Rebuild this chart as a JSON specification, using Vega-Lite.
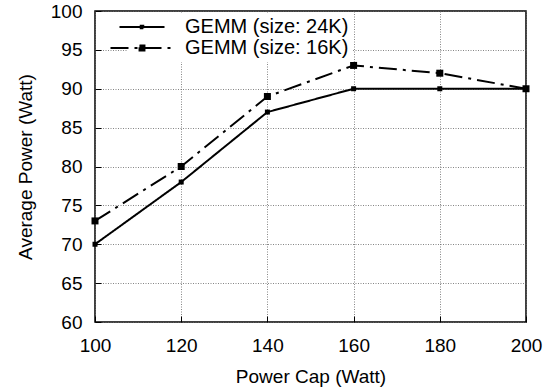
{
  "$schema": "https://vega.github.io/schema/vega-lite/v6.json",
  "width": 431,
  "height": 311,
  "autosize": "none",
  "padding": {"left": 95, "top": 11, "right": 26, "bottom": 67},
  "config": {
    "font": "Liberation Sans",
    "view": {"stroke": "black", "strokeWidth": 1.5},
    "axis": {
      "labelFont": "Liberation Sans",
      "labelFontSize": 19,
      "labelColor": "black",
      "labelFlush": false,
      "titleFont": "Liberation Sans",
      "titleFontSize": 19,
      "titleFontWeight": "normal",
      "titleColor": "black",
      "domain": false,
      "tickColor": "black",
      "tickSize": -6,
      "tickWidth": 1,
      "grid": true,
      "gridColor": "#666666",
      "gridDash": [1, 1.5],
      "gridWidth": 0.8
    },
    "legend": {
      "labelFont": "Liberation Sans",
      "labelFontSize": 20,
      "labelColor": "black",
      "labelLimit": 300
    }
  },
  "data": {
    "values": [
      {"cap": 100, "power": 70, "series": "GEMM (size: 24K)"},
      {"cap": 120, "power": 78, "series": "GEMM (size: 24K)"},
      {"cap": 140, "power": 87, "series": "GEMM (size: 24K)"},
      {"cap": 160, "power": 90, "series": "GEMM (size: 24K)"},
      {"cap": 180, "power": 90, "series": "GEMM (size: 24K)"},
      {"cap": 200, "power": 90, "series": "GEMM (size: 24K)"},
      {"cap": 100, "power": 73, "series": "GEMM (size: 16K)"},
      {"cap": 120, "power": 80, "series": "GEMM (size: 16K)"},
      {"cap": 140, "power": 89, "series": "GEMM (size: 16K)"},
      {"cap": 160, "power": 93, "series": "GEMM (size: 16K)"},
      {"cap": 180, "power": 92, "series": "GEMM (size: 16K)"},
      {"cap": 200, "power": 90, "series": "GEMM (size: 16K)"}
    ]
  },
  "encoding": {
    "x": {
      "field": "cap",
      "type": "quantitative",
      "title": "Power Cap (Watt)",
      "scale": {"domain": [100, 200], "nice": false},
      "axis": {"values": [100, 120, 140, 160, 180, 200], "labelPadding": 20, "titlePadding": 12}
    },
    "y": {
      "field": "power",
      "type": "quantitative",
      "title": "Average Power (Watt)",
      "scale": {"domain": [60, 100], "nice": false, "zero": false},
      "axis": {"values": [60, 65, 70, 75, 80, 85, 90, 95, 100], "labelPadding": 19, "titlePadding": 15}
    }
  },
  "layer": [
    {
      "mark": {"type": "line", "strokeWidth": 2, "color": "black"},
      "encoding": {
        "strokeDash": {
          "field": "series",
          "type": "nominal",
          "sort": null,
          "scale": {
            "domain": ["GEMM (size: 24K)", "GEMM (size: 16K)"],
            "range": [[1, 0], [18, 6, 3, 6]]
          },
          "legend": {
            "title": null,
            "orient": "none",
            "legendX": 33,
            "legendY": 2,
            "padding": 4,
            "fillColor": "white",
            "symbolSize": 100,
            "symbolStrokeWidth": 2,
            "symbolStrokeColor": "black",
            "symbolFillColor": "black",
            "labelOffset": 33,
            "rowPadding": 1,
            "encode": {
              "symbols": {
                "update": {
                  "shape": {"signal": "datum.value === 'GEMM (size: 24K)' ? 'M-9,0H9M-0.5,-0.5H0.5V0.5H-0.5Z' : 'M-9,0H9M-0.7,-0.7H0.7V0.7H-0.7Z'"},
                  "fill": {"value": "black"},
                  "stroke": {"value": "black"}
                }
              }
            }
          }
        }
      }
    },
    {
      "mark": {"type": "point", "shape": "square", "filled": true, "color": "black", "opacity": 1},
      "encoding": {
        "size": {
          "field": "series",
          "type": "nominal",
          "scale": {"domain": ["GEMM (size: 24K)", "GEMM (size: 16K)"], "range": [25, 49]},
          "legend": null
        }
      }
    }
  ]
}
